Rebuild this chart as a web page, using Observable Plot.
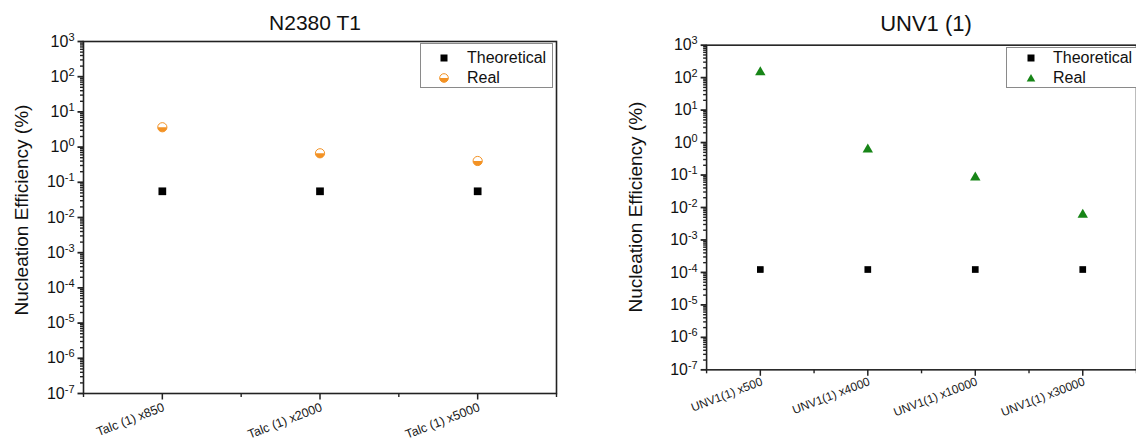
<!DOCTYPE html>
<html>
<head>
<meta charset="utf-8">
<script src="https://cdn.jsdelivr.net/npm/d3@7"></script>
<script src="https://cdn.jsdelivr.net/npm/@observablehq/plot@0.6"></script>
<style>
  html, body { margin: 0; padding: 0; background: #fff; overflow: hidden; width: 1136px; height: 441px; }
  #root { position: relative; width: 1136px; height: 441px; font-family: "Liberation Sans", Arial, sans-serif; color: #111; }
  .panel { position: absolute; top: 0; }
  .title { position: absolute; white-space: nowrap; transform: translate(-50%, -50%); }
  .ylab { position: absolute; font-size: 19px; white-space: nowrap; transform: translate(-50%, -50%) rotate(-90deg); }
  .legend { position: absolute; background: #fff; border: 1px solid #8a8a8a; font-size: 16px; box-sizing: border-box; }
  .legend .row { position: absolute; white-space: nowrap; }
  .legend svg { position: absolute; overflow: visible; }
</style>
</head>
<body>
<div id="root"></div>
<script>
// Nucleation efficiency (%) per sample, log scale
const talcCategories = ["Talc (1) x850", "Talc (1) x2000", "Talc (1) x5000"];
const talcTheoretical = [0.0555, 0.0555, 0.0555];
const talcReal = [3.66, 0.667, 0.403];

const unvCategories = ["UNV1(1) x500", "UNV1(1) x4000", "UNV1(1) x10000", "UNV1(1) x30000"];
const unvTheoretical = [1.23e-4, 1.23e-4, 1.23e-4, 1.23e-4];
const unvReal = [146, 0.616, 0.084, 0.006];

const decadeExponents = [-7, -6, -5, -4, -3, -2, -1, 0, 1, 2, 3];
const seriesNames = ["Theoretical", "Real"];

const ORANGE = "#f39224";
const GREEN = "#178517";
const AXIS = "#222222";

const decades = decadeExponents.map(e => 10 ** e);
const minorTicks = decadeExponents.slice(0, -1).flatMap(e => d3.range(2, 10).map(m => m * 10 ** e));

// Origin-style half-filled circle: only the lower half is drawn
const lowerHalfCircle = {
  draw(ctx, size) {
    const r = Math.sqrt(size / Math.PI);
    ctx.moveTo(r, 0);
    ctx.arc(0, 0, r, 0, Math.PI);
    ctx.closePath();
  }
};
// short tick stubs drawn as dot symbols, pointing out of the frame
const leftStub = len => ({draw(ctx) { ctx.moveTo(-len, 0); ctx.lineTo(0, 0); }});
const downStub = len => ({draw(ctx) { ctx.moveTo(0, 0); ctx.lineTo(0, len); }});

function panel({categories, theoretical, real, left, width, margin, realKind, labelDy, labelSize, squareR, realR}) {
  const n = categories.length;
  const height = 441;
  const idx = (d, i) => i;
  const realMarks = realKind === "half"
    ? [
        Plot.dot(real, {x: idx, y: d => d, symbol: "circle", r: realR, fill: "#fff", stroke: ORANGE, strokeWidth: 1}),
        Plot.dot(real, {x: idx, y: d => d, symbol: lowerHalfCircle, r: realR, fill: ORANGE})
      ]
    : [Plot.dot(real, {x: idx, y: d => d, symbol: "triangle", r: realR, fill: GREEN})];

  const chart = Plot.plot({
    width, height,
    marginLeft: margin.left, marginRight: margin.right, marginTop: margin.top, marginBottom: margin.bottom,
    style: {fontFamily: "'Liberation Sans', Arial, sans-serif", fontSize: "16px", color: "#111", background: "transparent", overflow: "visible"},
    x: {type: "linear", domain: [-0.5, n - 0.5], axis: null},
    y: {type: "log", domain: [1e-7, 1e3], axis: null},
    marks: [
      // decade labels (exponent text, turned into 10^e below)
      Plot.text(decades, {y: d => d, frameAnchor: "left", text: d => String(Math.round(Math.log10(d))), textAnchor: "end", dx: -9, fontSize: 16, fill: "#111"}),
      Plot.text(categories, {x: idx, frameAnchor: "bottom", text: d => d, rotate: -21, textAnchor: "end", dx: 3, dy: labelDy, fontSize: labelSize, fill: "#1a1a1a"}),
      // y tick stubs: minor (2..9 per decade) and decades
      Plot.dot(minorTicks, {y: d => d, frameAnchor: "left", symbol: leftStub(3.5), stroke: AXIS, strokeWidth: 1.4, fill: "none"}),
      Plot.dot(decades, {y: d => d, frameAnchor: "left", symbol: leftStub(6), stroke: AXIS, strokeWidth: 1.8, fill: "none"}),
      // x tick stubs: categories and band boundaries
      Plot.dot(d3.range(n), {x: d => d, frameAnchor: "bottom", symbol: downStub(6), stroke: AXIS, strokeWidth: 1.5, fill: "none"}),
      Plot.dot(d3.range(n + 1).map(i => i - 0.5), {x: d => d, frameAnchor: "bottom", symbol: downStub(3.5), stroke: AXIS, strokeWidth: 1.4, fill: "none"}),
      Plot.frame({stroke: AXIS, strokeWidth: 1.6}),
      Plot.dot(theoretical, {x: idx, y: d => d, symbol: "square", r: squareR, fill: "#000"}),
      ...realMarks
    ]
  });

  // superscript exponents on the decade labels (the first text layer)
  const decadeLayer = chart.querySelectorAll('g[aria-label="text"]')[0];
  decadeLayer.querySelectorAll("text").forEach(t => {
    const e = t.textContent;
    t.textContent = "10";
    const sup = document.createElementNS("http://www.w3.org/2000/svg", "tspan");
    sup.setAttribute("dy", "-0.55em");
    sup.setAttribute("font-size", "11");
    sup.textContent = e;
    t.appendChild(sup);
  });

  const wrap = document.createElement("div");
  wrap.className = "panel";
  wrap.style.left = left + "px";
  wrap.appendChild(chart);
  return wrap;
}

function legend({left, top, width, height, markerX, textX, rows, realKind}) {
  const box = document.createElement("div");
  box.className = "legend";
  Object.assign(box.style, {left: left + "px", top: top + "px", width: width + "px", height: height + "px"});
  seriesNames.forEach((name, i) => {
    const cy = rows[i];
    const svg = d3.create("svg").attr("width", 12).attr("height", 12)
      .style("left", (markerX - 6) + "px").style("top", (cy - 6) + "px");
    if (i === 0) {
      svg.append("rect").attr("x", 2.5).attr("y", 2.5).attr("width", 7).attr("height", 7).attr("fill", "#000");
    } else if (realKind === "half") {
      svg.append("circle").attr("cx", 6).attr("cy", 6).attr("r", 4.3).attr("fill", "#fff").attr("stroke", ORANGE);
      svg.append("path").attr("d", "M10.3,6A4.3,4.3 0 0 1 1.7,6Z").attr("fill", ORANGE);
    } else {
      svg.append("path").attr("d", "M6,2L10.3,9.5L1.7,9.5Z").attr("fill", GREEN);
    }
    box.appendChild(svg.node());
    const row = document.createElement("div");
    row.className = "row";
    row.textContent = name;
    Object.assign(row.style, {left: textX + "px", top: (cy - 10) + "px", lineHeight: "20px"});
    box.appendChild(row);
  });
  return box;
}

function label(cls, text, x, y, size) {
  const el = document.createElement("div");
  el.className = cls;
  el.textContent = text;
  Object.assign(el.style, {left: x + "px", top: y + "px"});
  if (size) el.style.fontSize = size + "px";
  return el;
}

const root = document.getElementById("root");

root.appendChild(panel({
  categories: talcCategories, theoretical: talcTheoretical, real: talcReal,
  left: 0, width: 580, margin: {left: 83, right: 24, top: 41, bottom: 48},
  realKind: "half", labelDy: 17, labelSize: 12.5, squareR: 4.35, realR: 4.6
}));
root.appendChild(panel({
  categories: unvCategories, theoretical: unvTheoretical, real: unvReal,
  left: 580, width: 560, margin: {left: 127, right: 0, top: 45, bottom: 69},
  realKind: "tri", labelDy: 15, labelSize: 12, squareR: 3.8, realR: 3.9
}));

root.appendChild(label("title", "N2380 T1", 315, 23, 21));
root.appendChild(label("title", "UNV1 (1)", 926, 24, 22));
root.appendChild(label("ylab", "Nucleation Efficiency (%)", 22, 210));
root.appendChild(label("ylab", "Nucleation Efficiency (%)", 636, 207));

root.appendChild(legend({left: 420, top: 43, width: 133, height: 45, markerX: 23, textX: 46, rows: [14, 34], realKind: "half"}));
root.appendChild(legend({left: 1006, top: 47, width: 140, height: 41, markerX: 24, textX: 46, rows: [10, 30], realKind: "tri"}));
</script>
</body>
</html>
